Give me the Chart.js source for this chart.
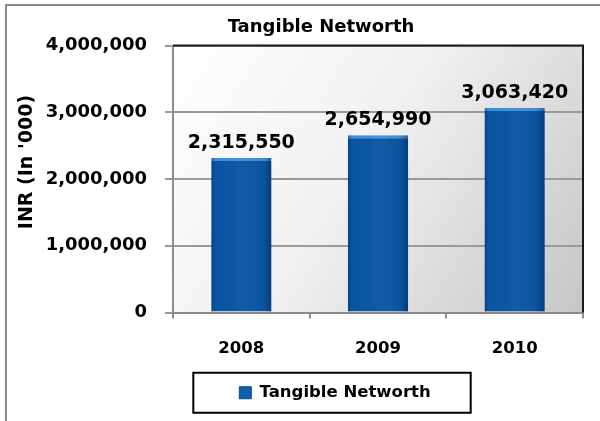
<!DOCTYPE html>
<html>
<head>
<meta charset="utf-8">
<script src="https://cdn.jsdelivr.net/npm/chart.js@4"></script>
<style>
  html, body { margin: 0; padding: 0; background: #ffffff; }
  #wrap { position: relative; width: 600px; height: 421px; }
  canvas { display: block; }
</style>
</head>
<body>
<div id="wrap"><canvas id="c" width="600" height="421"></canvas></div>
<script>
const categories = ['2008', '2009', '2010'];
const networth = [2315550, 2654990, 3063420];
const yTicks = [0, 1000000, 2000000, 3000000, 4000000];
const seriesName = 'Tangible Networth';
const chartTitle = 'Tangible Networth';
const yTitle = "INR (In '000)";

const FONT = "'DejaVu Sans', Verdana, sans-serif";
const fmt = v => v.toLocaleString('en-US');

const decor = {
  id: 'decor',
  afterLayout(chart) {
    const tb = chart.titleBlock;
    if (tb) { const s = 321 - (tb.left + tb.right) / 2; tb.left += s; tb.right += s; }
    const lg = chart.legend;
    if (lg) { const s = 335 - (lg.left + lg.right) / 2; lg.left += s; lg.right += s; }
  },
  beforeDraw(chart) {
    const ctx = chart.ctx, a = chart.chartArea;
    ctx.save();
    ctx.strokeStyle = '#8c8c8c';
    ctx.lineWidth = 2;
    ctx.beginPath();
    ctx.moveTo(6, 421); ctx.lineTo(6, 5); ctx.lineTo(600, 5);
    ctx.stroke();
    const g = ctx.createLinearGradient(a.left, a.top, a.right, a.bottom);
    g.addColorStop(0, '#ffffff');
    g.addColorStop(0.45, '#f1f1f1');
    g.addColorStop(1, '#c6c6c6');
    ctx.fillStyle = g;
    ctx.fillRect(a.left, a.top, a.right - a.left, a.bottom - a.top);
    ctx.restore();
  },
  afterDatasetsDraw(chart) {
    const ctx = chart.ctx, a = chart.chartArea;
    const meta = chart.getDatasetMeta(0);
    ctx.save();
    meta.data.forEach((el, i) => {
      const w = el.width, x0 = el.x - w / 2, top = el.y, bot = el.base;
      const g = ctx.createLinearGradient(x0, 0, x0 + w, 0);
      g.addColorStop(0, 'rgba(0,20,60,0.28)');
      g.addColorStop(0.08, 'rgba(0,20,60,0.0)');
      g.addColorStop(0.5, 'rgba(255,255,255,0.03)');
      g.addColorStop(0.88, 'rgba(0,20,60,0.06)');
      g.addColorStop(1, 'rgba(0,20,60,0.38)');
      ctx.fillStyle = g;
      ctx.fillRect(x0, top, w, bot - top);
      ctx.fillStyle = '#000';
      ctx.font = "bold 19px " + FONT;
      ctx.textAlign = 'center';
      ctx.textBaseline = 'alphabetic';
      ctx.fillText(fmt(networth[i]), el.x, top - 10);
    });
    ctx.strokeStyle = '#1a1a1a';
    ctx.lineWidth = 2;
    ctx.beginPath();
    ctx.moveTo(a.left, a.top); ctx.lineTo(a.right, a.top); ctx.lineTo(a.right, a.bottom);
    ctx.stroke();
    ctx.restore();
  },
  afterDraw(chart) {
    const ctx = chart.ctx;
    // y-axis title
    ctx.save();
    ctx.translate(27, 162);
    ctx.rotate(-Math.PI / 2);
    ctx.fillStyle = '#000';
    ctx.font = "bold 19px " + FONT;
    ctx.textAlign = 'center';
    ctx.textBaseline = 'middle';
    ctx.fillText(yTitle, 0, 0);
    ctx.restore();
    // legend frame
    const lg = chart.legend;
    if (!lg || !lg.legendHitBoxes || !lg.legendHitBoxes.length) return;
    const hb = lg.legendHitBoxes[0];
    const cy = hb.top + hb.height / 2;
    ctx.save();
    ctx.strokeStyle = '#000';
    ctx.lineWidth = 2;
    ctx.strokeRect(hb.left - 46, cy - 20, hb.width + 86, 40);
    ctx.restore();
  }
};

new Chart(document.getElementById('c'), {
  type: 'bar',
  data: {
    labels: categories,
    datasets: [{
      label: seriesName,
      data: networth,
      backgroundColor: '#0a56a2',
      borderColor: '#3f8fe0',
      borderWidth: { top: 3, left: 0, right: 0, bottom: 0 },
      borderSkipped: false,
      barPercentage: 0.88,
      categoryPercentage: 0.5
    }]
  },
  plugins: [decor],
  options: {
    responsive: false,
    animation: false,
    events: [],
    layout: { padding: { left: 8, right: 17, top: 10, bottom: 10 } },
    plugins: {
      title: {
        display: true,
        text: chartTitle,
        color: '#000',
        font: { family: FONT, size: 18, weight: 'bold' },
        padding: { top: 7, bottom: 7 }
      },
      legend: {
        display: true,
        position: 'bottom',
        labels: {
          color: '#000',
          font: { family: FONT, size: 16.5, weight: 'bold' },
          boxWidth: 12,
          boxHeight: 12,
          padding: 12,
          generateLabels: (chart) => [{
            text: seriesName,
            fillStyle: '#0f5fae',
            strokeStyle: '#0a4a8a',
            lineWidth: 1,
            datasetIndex: 0
          }]
        }
      },
      tooltip: { enabled: false }
    },
    scales: {
      x: {
        grid: { display: true, offset: true, drawOnChartArea: false, color: '#8c8c8c', lineWidth: 2, tickLength: 6 },
        border: { display: true, color: '#8c8c8c', width: 2 },
        ticks: { color: '#000', font: { family: FONT, size: 16.5, weight: 'bold' }, padding: 20 },
        afterFit: s => { s.height = 60; }
      },
      y: {
        min: 0,
        max: 4000000,
        afterBuildTicks: s => { s.ticks = yTicks.map(v => ({ value: v })); },
        grid: { color: '#9a9a9a', lineWidth: 2, tickLength: 8 },
        border: { display: true, color: '#8c8c8c', width: 2 },
        ticks: { color: '#000', font: { family: FONT, size: 18, weight: 'bold' }, padding: 18, callback: v => fmt(v) },
        title: { display: false },
        afterFit: s => { s.width = 165; }
      }
    }
  }
});
</script>
</body>
</html>
